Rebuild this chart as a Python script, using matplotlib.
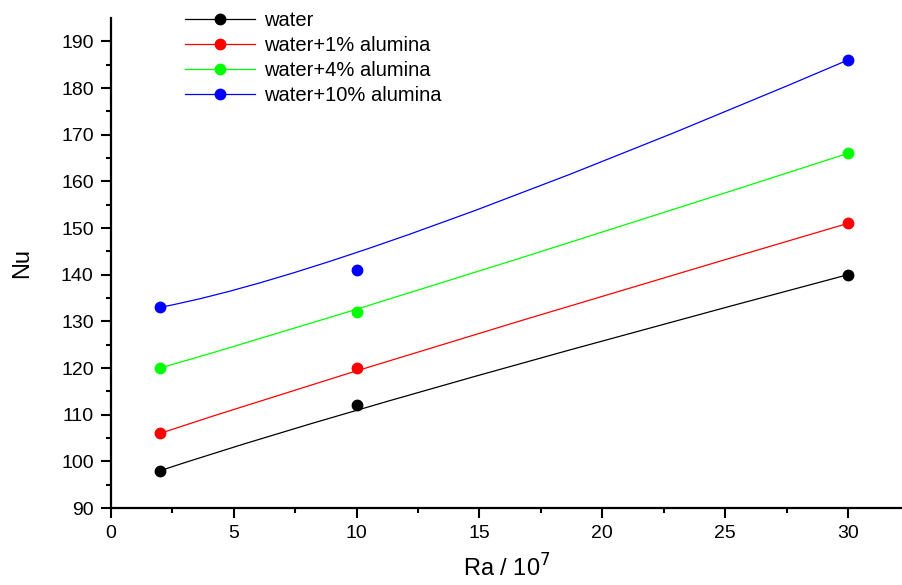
import matplotlib.pyplot as plt
from matplotlib.path import Path
from matplotlib.patches import PathPatch
from matplotlib.lines import Line2D

plt.rcParams['font.family'] = ['Liberation Sans', 'DejaVu Sans']

ra = [2, 10, 30]
nu_water = [98, 112, 140]
nu_1pct = [106, 120, 151]
nu_4pct = [120, 132, 166]
nu_10pct = [133, 141, 186]

series = [
    ("water", nu_water, "black"),
    ("water+1% alumina", nu_1pct, "red"),
    ("water+4% alumina", nu_4pct, "#00ff00"),
    ("water+10% alumina", nu_10pct, "blue"),
]

fig = plt.figure(figsize=(9.02, 5.85), dpi=100)
ax = fig.add_axes([0.1231, 0.1316, 0.8769, 0.8376])

handles = []
for name, nu, color in series:
    # smooth B-spline style connection (quadratic bezier through data as control pts)
    verts = list(zip(ra, nu))
    path = Path(verts, [Path.MOVETO, Path.CURVE3, Path.CURVE3])
    ax.add_patch(PathPatch(path, facecolor="none", edgecolor=color, lw=0.9))
    ax.plot(ra, nu, "o", color=color, markersize=7.5, zorder=3)
    handles.append(Line2D([], [], color=color, lw=0.9, marker="o", markersize=7.5))

ax.set_xlim(0, 32.2)
ax.set_ylim(90, 195)
ax.set_xticks([0, 5, 10, 15, 20, 25, 30])
ax.set_xticks([2.5, 7.5, 12.5, 17.5, 22.5, 27.5], minor=True)
ax.set_yticks(range(90, 191, 10))
ax.set_yticks(range(95, 195, 10), minor=True)

for s in ["top", "right"]:
    ax.spines[s].set_visible(False)
for s in ["left", "bottom"]:
    ax.spines[s].set_linewidth(1.6)

ax.tick_params(which="major", direction="out", length=7.5, width=1.5, labelsize=14, pad=5)
ax.tick_params(which="minor", direction="out", length=3.5, width=1.5)

ax.set_xlabel("Ra / 10$^7$", fontsize=17, labelpad=9)
ax.set_ylabel("Nu", fontsize=17, labelpad=20)

fig.legend(handles, [s[0] for s in series], loc="upper left",
           bbox_to_anchor=(0.185, 1.012), frameon=False, fontsize=14.5,
           handlelength=3.5, handletextpad=0.4, labelspacing=0.3)

fig.savefig("out.png", dpi=100)
